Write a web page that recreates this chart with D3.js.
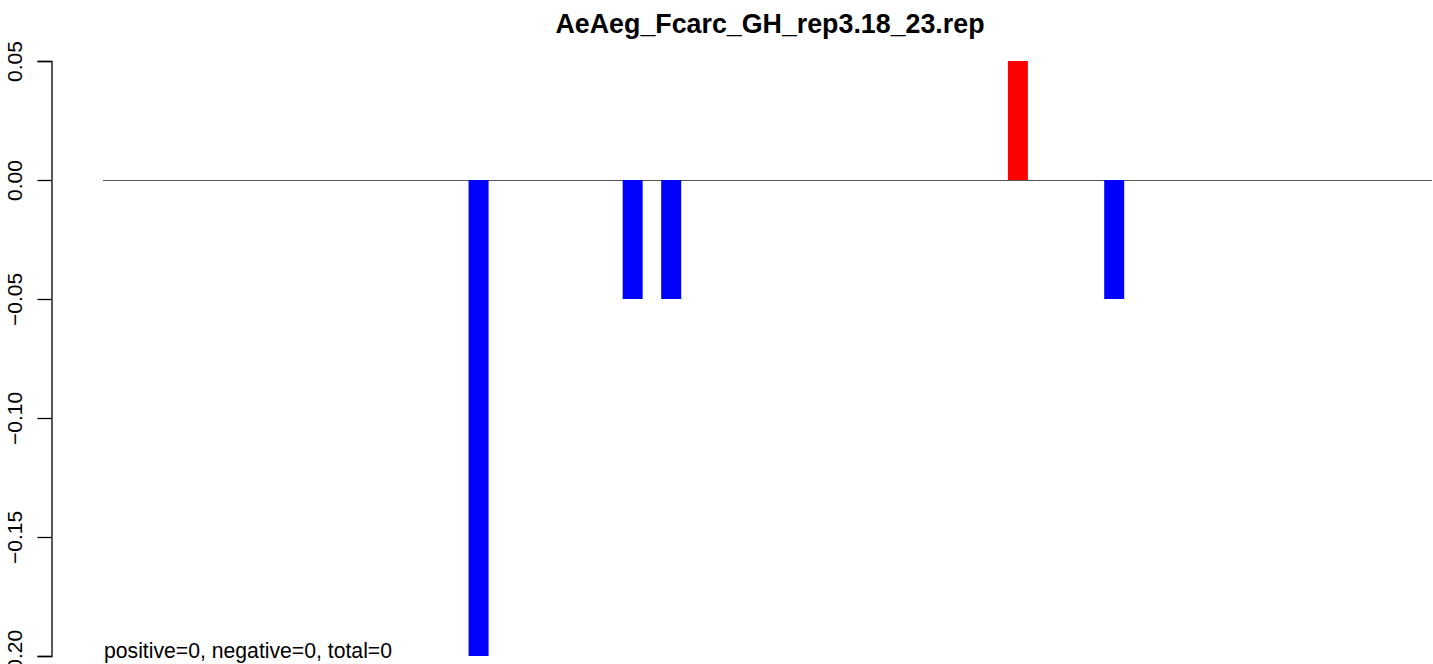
<!DOCTYPE html>
<html><head><meta charset="utf-8">
<script src="https://cdn.jsdelivr.net/npm/d3@7"></script>
<style>html,body{margin:0;padding:0;background:#fff;overflow:hidden}</style>
</head><body>
<svg id="chart" width="1433" height="664"></svg>
<script>
const title = "AeAeg_Fcarc_GH_rep3.18_23.rep";
const binPositions = [20.5, 28.5, 30.5, 48.5, 53.5];
const binValues = [-0.2, -0.05, -0.05, 0.05, -0.05];
const xExtent = [1, 70];
const yTicks = [0.05, 0, -0.05, -0.10, -0.15, -0.20];
const summaryText = "positive=0, negative=0, total=0";

const svg = d3.select("#chart");
const font = "'Liberation Sans', Arial, sans-serif";
const x = d3.scaleLinear().domain(xExtent).range([103, 1432]);
const y = d3.scaleLinear().domain([-0.2, 0.05]).range([656, 61]);

// zero line
svg.append("line")
  .attr("x1", x(xExtent[0])).attr("x2", x(xExtent[1]))
  .attr("y1", Math.round(y(0)) + 0.5).attr("y2", Math.round(y(0)) + 0.5)
  .attr("stroke", "#555").attr("stroke-width", 1);

// bars
const barW = 20;
svg.selectAll("rect.bar").data(binPositions.map((p, i) => ({p, v: binValues[i]})))
  .enter().append("rect").attr("class", "bar")
  .attr("x", d => x(d.p) - barW / 2)
  .attr("width", barW)
  .attr("y", d => Math.min(y(d.v), y(0)))
  .attr("height", d => Math.abs(y(d.v) - y(0)))
  .attr("fill", d => d.v > 0 ? "#ff0000" : "#0000ff");

// y axis
const fmt = v => (v < 0 ? "\u2212" : "") + Math.abs(v).toFixed(2);
const axis = d3.axisLeft(y).tickValues(yTicks).tickSize(14).tickPadding(0).tickFormat(fmt);
const g = svg.append("g").attr("transform", "translate(51.5,0)").call(axis);
g.select(".domain").attr("stroke", "#000").attr("stroke-width", 1.3);
g.selectAll(".tick line").attr("stroke", "#000").attr("stroke-width", 1.3);
g.selectAll(".tick text").remove();
g.selectAll(".tick").append("text")
  .attr("transform", "translate(-30,0) rotate(-90)")
  .attr("text-anchor", "middle")
  .attr("fill", "#000")
  .style("font-family", font).style("font-size", "21px")
  .text(d => fmt(d));

// title
svg.append("text")
  .attr("x", 770).attr("y", 33)
  .attr("text-anchor", "middle")
  .style("font-family", font).style("font-size", "26.8px").style("font-weight", "bold")
  .text(title);

// summary text
svg.append("text")
  .attr("x", 104).attr("y", 658)
  .style("font-family", font).style("font-size", "21.2px")
  .text(summaryText);
</script>
</body></html>
